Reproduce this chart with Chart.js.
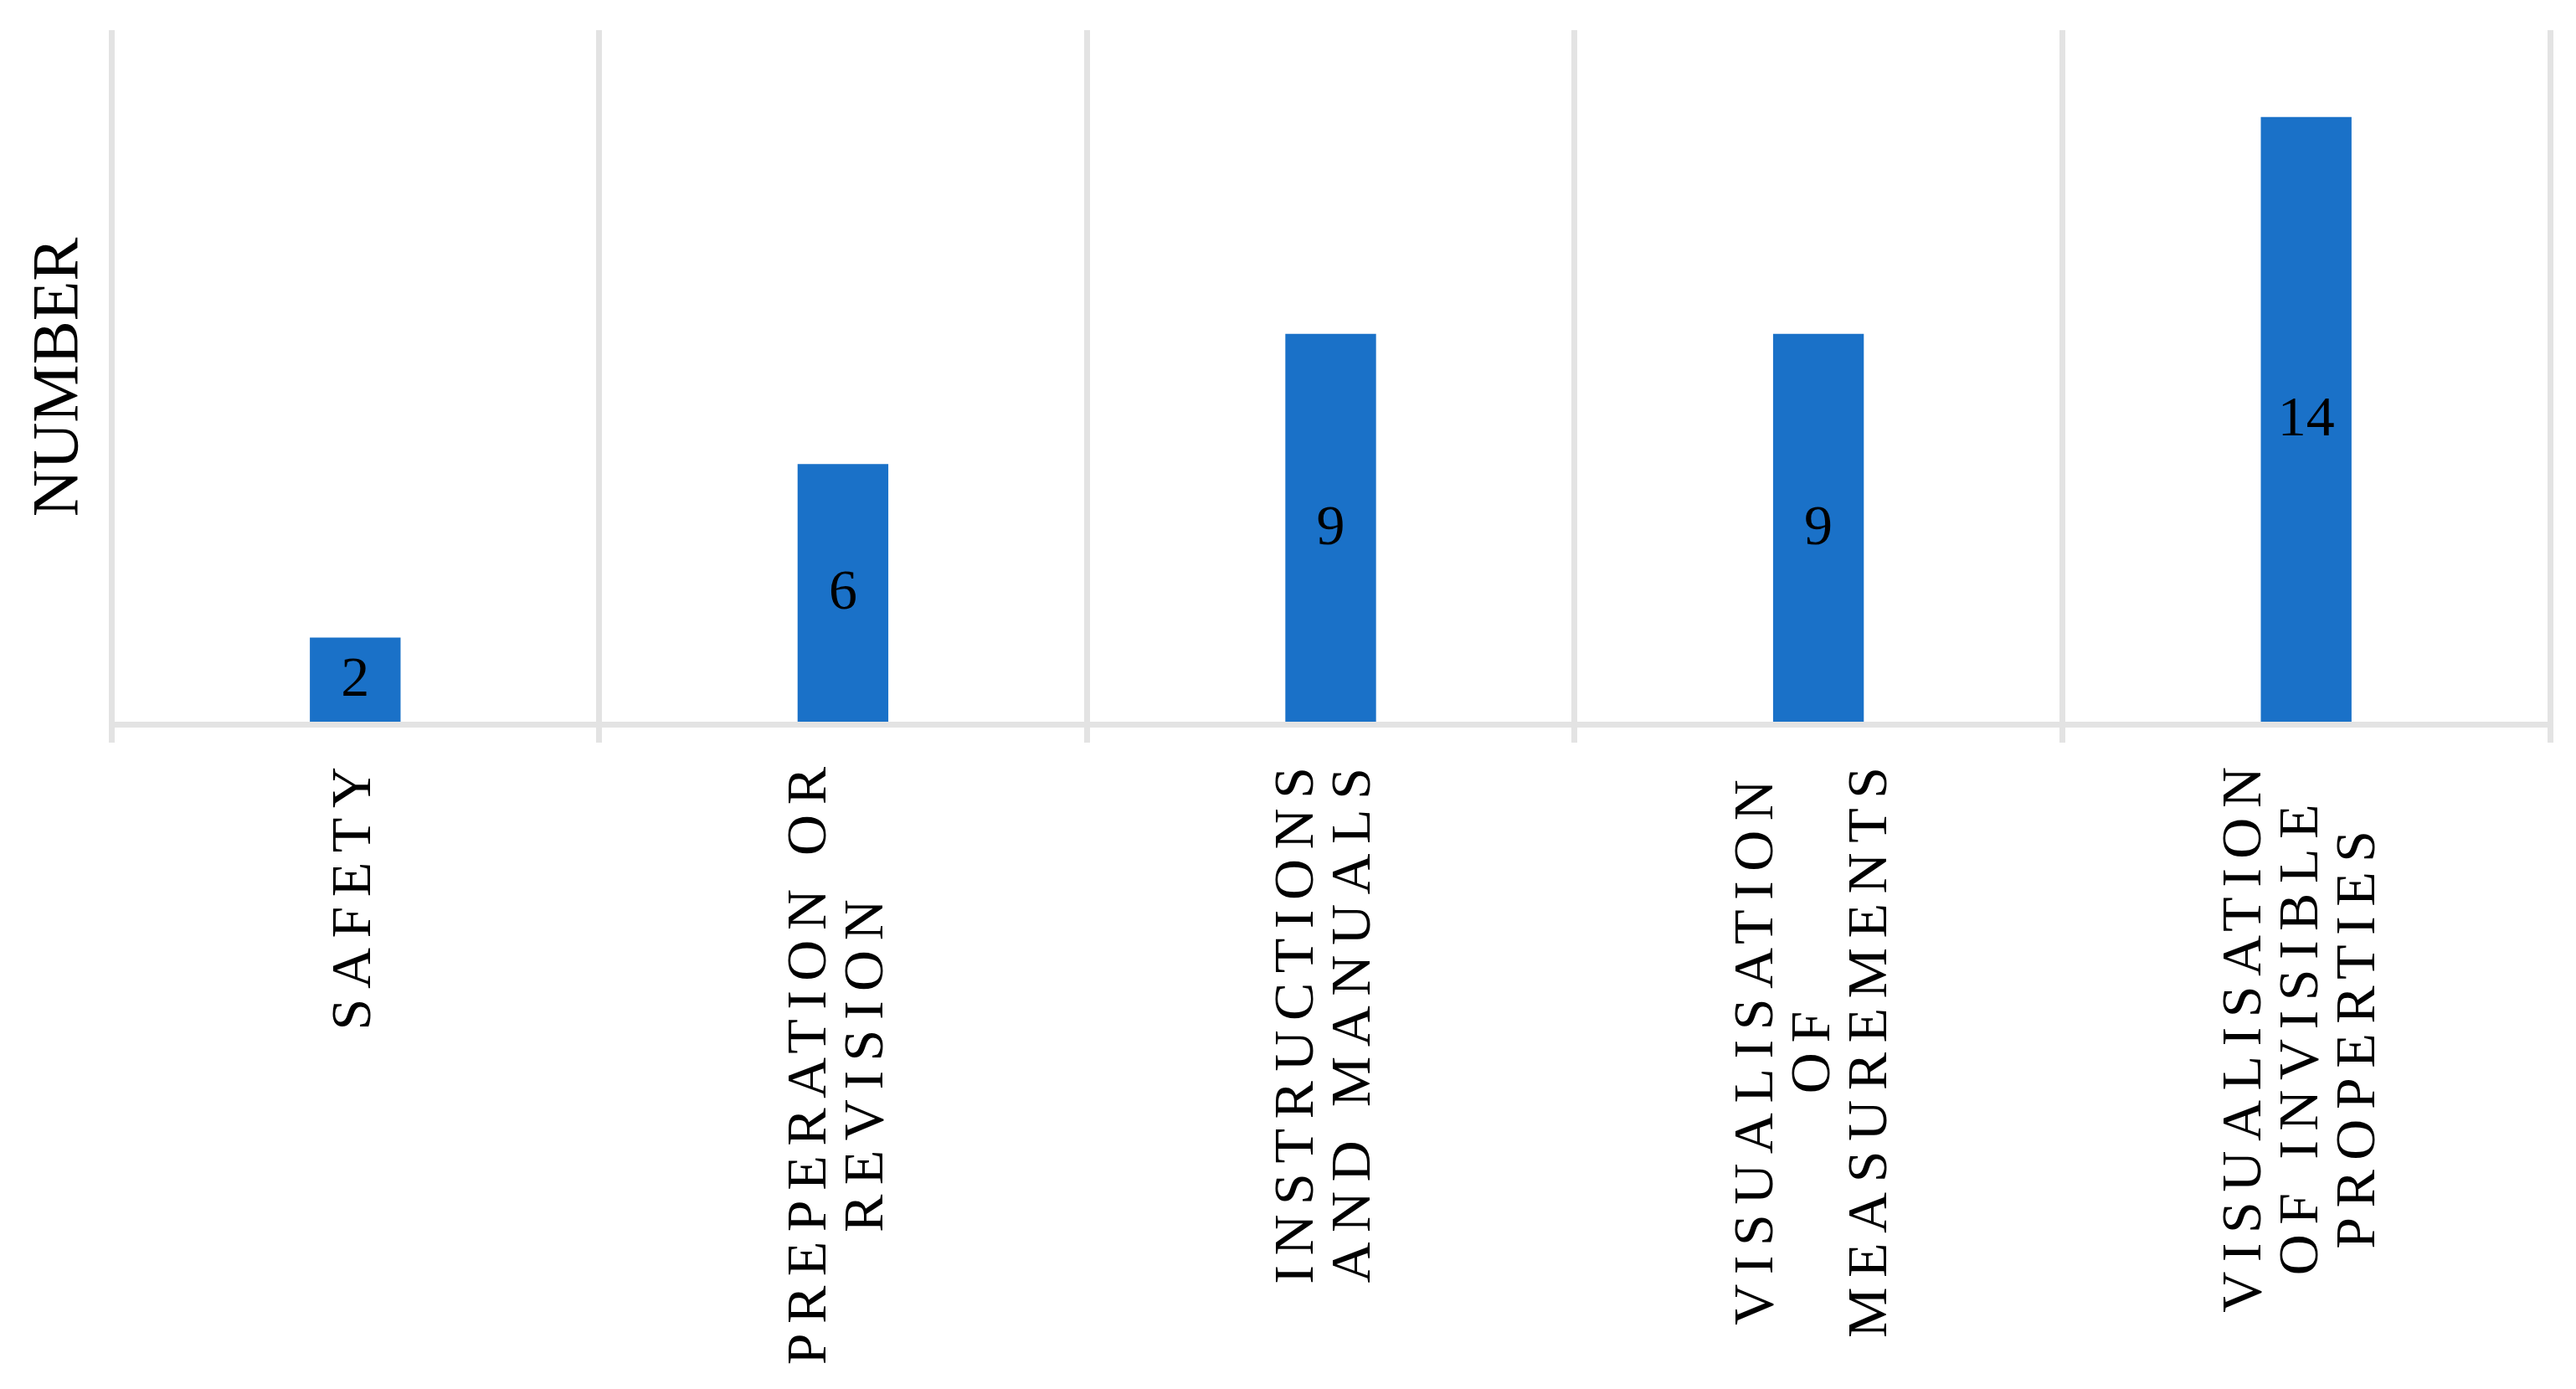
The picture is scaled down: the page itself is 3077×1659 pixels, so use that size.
<!DOCTYPE html>
<html>
<head>
<meta charset="utf-8">
<script src="https://cdn.jsdelivr.net/npm/chart.js"></script>
<style>
  html, body { margin: 0; padding: 0; background: #ffffff; }
  #wrap { width: 3077px; height: 1659px; }
</style>
</head>
<body>
<div id="wrap"><canvas id="c" width="3077" height="1659"></canvas></div>
<script>
// ---- data ----
const categories = [
  ['SAFETY'],
  ['PREPERATION OR', 'REVISION'],
  ['INSTRUCTIONS', 'AND MANUALS'],
  ['VISUALISATION', 'OF', 'MEASUREMENTS'],
  ['VISUALISATION', 'OF INVISIBLE', 'PROPERTIES']
];
const values = [2, 6, 9, 9, 14];
const yAxisTitle = 'NUMBER';
const yMin = 0;
const yMax = 16;

// ---- styles ----
const SERIF = '"Liberation Serif", "DejaVu Serif", serif';
const BAR_COLOR = '#1A71C8';
const GRID_COLOR = '#E3E3E3';
const LABEL_SIZE = 68;
const LETTER_SP = 11.5;
const LINE_H = 68;

// value labels centred in bars
const valueLabels = {
  id: 'valueLabels',
  afterDatasetsDraw(chart) {
    const ctx = chart.ctx;
    const meta = chart.getDatasetMeta(0);
    ctx.save();
    ctx.font = LABEL_SIZE + 'px ' + SERIF;
    ctx.fillStyle = '#000000';
    ctx.textAlign = 'center';
    ctx.textBaseline = 'middle';
    meta.data.forEach((el, i) => {
      const p = el.getProps(['x', 'y', 'base'], true);
      ctx.fillText(String(chart.data.datasets[0].data[i]), p.x, (p.y + p.base) / 2);
    });
    ctx.restore();
  }
};

// rotated, letter-spaced, centred multi-line category labels
const categoryLabels = {
  id: 'categoryLabels',
  afterDraw(chart) {
    const ctx = chart.ctx;
    const xs = chart.scales.x;
    const yTop = xs.top + 51;
    ctx.save();
    ctx.font = LABEL_SIZE + 'px ' + SERIF;
    ctx.fillStyle = '#000000';
    ctx.textBaseline = 'middle';
    ctx.textAlign = 'left';
    const hasLS = ('letterSpacing' in ctx);
    categories.forEach((lines, i) => {
      const x = xs.getPixelForValue(i);
      if (hasLS) ctx.letterSpacing = '0px';
      const widths = lines.map(l => ctx.measureText(l).width + LETTER_SP * (l.length - 1));
      const wmax = Math.max(...widths);
      const shift = lines.length > 1 ? -5 : 0;
      lines.forEach((l, j) => {
        const lx = x + (j - (lines.length - 1) / 2) * LINE_H + shift;
        ctx.save();
        ctx.translate(lx, yTop);
        ctx.rotate(-Math.PI / 2);
        const x0 = -wmax / 2 - widths[j] / 2;
        if (hasLS) {
          ctx.letterSpacing = LETTER_SP + 'px';
          ctx.fillText(l, x0, 0);
        } else {
          let cx = x0;
          for (const ch of l) {
            ctx.fillText(ch, cx, 0);
            cx += ctx.measureText(ch).width + LETTER_SP;
          }
        }
        ctx.restore();
      });
    });
    ctx.restore();
  }
};

new Chart(document.getElementById('c'), {
  type: 'bar',
  data: {
    labels: categories,
    datasets: [{
      data: values,
      backgroundColor: BAR_COLOR,
      borderWidth: 0,
      categoryPercentage: 1.0,
      barPercentage: 0.186
    }]
  },
  options: {
    responsive: false,
    animation: false,
    devicePixelRatio: 1,
    layout: { padding: { top: 36, right: 31, bottom: 0, left: 0 } },
    plugins: { legend: { display: false }, tooltip: { enabled: false } },
    scales: {
      x: {
        type: 'category',
        offset: true,
        grid: { display: true, offset: true, color: GRID_COLOR, lineWidth: 7, drawTicks: true, tickLength: 22 },
        border: { display: true, color: GRID_COLOR, width: 7, z: 1 },
        ticks: { display: false },
        afterFit(s) { s.height = 794; }
      },
      y: {
        min: yMin,
        max: yMax,
        grid: { display: false },
        border: { display: false },
        ticks: { display: false },
        title: {
          display: true,
          text: yAxisTitle,
          color: '#000000',
          font: { family: SERIF, size: 78, weight: 'normal' },
          padding: { top: 25, bottom: 0 }
        },
        afterFit(s) { s.width = 133; }
      }
    }
  },
  plugins: [valueLabels, categoryLabels]
});
</script>
</body>
</html>
